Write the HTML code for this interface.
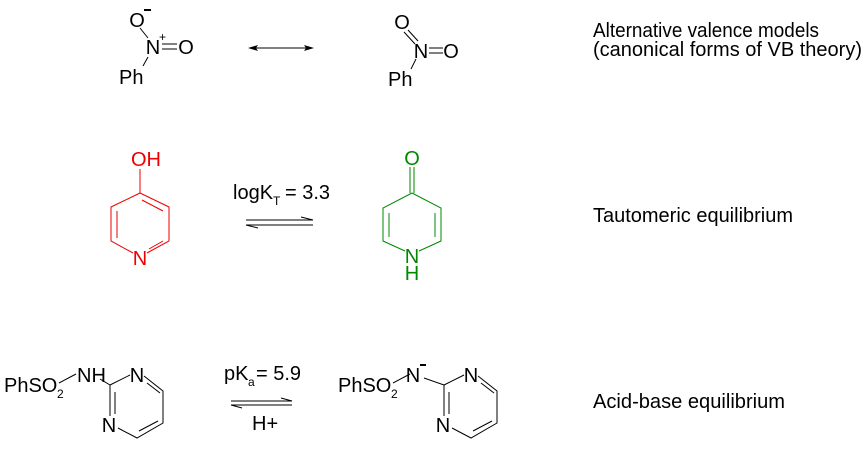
<!DOCTYPE html>
<html><head><meta charset="utf-8"><style>
html,body{margin:0;padding:0;background:#fff;width:864px;height:452px;overflow:hidden}
text{font-family:"Liberation Sans",Arial,sans-serif}
</style></head><body>
<svg width="864" height="452" viewBox="0 0 864 452" xmlns="http://www.w3.org/2000/svg">
<g fill="#000" font-size="20">
<text x="137" y="27" text-anchor="middle">O</text>
<text x="153" y="54" text-anchor="middle">N</text><text x="159" y="41" font-size="12">+</text>
<text x="186" y="54" text-anchor="middle">O</text>
<text x="119" y="84">Ph</text>
</g>
<g stroke="#000" stroke-width="1" fill="none">
<line x1="144" y1="10" x2="151" y2="10" stroke-width="2"/>
<line x1="140" y1="28" x2="148" y2="38"/>
<line x1="148" y1="57" x2="143" y2="66"/>
<line x1="162" y1="44" x2="177" y2="44"/>
<line x1="162" y1="49" x2="177" y2="49"/>
<line x1="404" y1="32" x2="415" y2="44"/>
<line x1="408" y1="30" x2="418" y2="41"/>
<line x1="416" y1="59" x2="411" y2="69"/>
<line x1="429" y1="48" x2="443" y2="48"/>
<line x1="429" y1="53" x2="443" y2="53"/>
<line x1="250" y1="48" x2="312" y2="48"/>
</g>
<polygon points="248,48 258,45 256,48 258,51" fill="#000"/>
<polygon points="314,48 304,45 306,48 304,51" fill="#000"/>
<g fill="#000" font-size="20">
<text x="402" y="29" text-anchor="middle">O</text>
<text x="421" y="58" text-anchor="middle">N</text>
<text x="451" y="58" text-anchor="middle">O</text>
<text x="388" y="86">Ph</text>
</g>
<g stroke="#e00" stroke-width="1" fill="none">
<line x1="140" y1="169" x2="140" y2="193"/>
<polyline points="140,193 111,207 111,241 133,253"/>
<polyline points="140,193 169,207 169,241 147,253"/>
<line x1="117" y1="211" x2="117" y2="238"/>
<line x1="142" y1="200" x2="163" y2="211"/>
<line x1="149" y1="249" x2="163" y2="241"/>
</g>
<g fill="#e00" font-size="20"><text x="131" y="166">OH</text><text x="140" y="265" text-anchor="middle">N</text></g>
<g stroke="#080" stroke-width="1" fill="none">
<line x1="410" y1="167" x2="410" y2="193"/>
<line x1="414" y1="167" x2="414" y2="193"/>
<polyline points="412,193 383,208 383,241 405,251"/>
<polyline points="412,193 441,208 441,241 419,251"/>
<line x1="389" y1="213" x2="389" y2="237"/>
<line x1="435" y1="213" x2="435" y2="237"/>
</g>
<g fill="#080" font-size="20"><text x="412" y="165" text-anchor="middle">O</text><text x="412" y="263" text-anchor="middle">N</text><text x="412" y="280" text-anchor="middle">H</text></g>
<g fill="#000"><text x="233" y="199" font-size="20">logK</text><text x="273" y="205" font-size="12">T</text><text x="285" y="199" font-size="20">= 3.3</text></g>
<g stroke="#000" stroke-width="1" fill="none">
<line x1="246" y1="220" x2="313" y2="220"/>
<line x1="246" y1="225" x2="313" y2="225"/>
<line x1="301" y1="217" x2="313" y2="220"/>
<line x1="246" y1="225" x2="258" y2="228"/>
</g>
<g fill="#000" font-size="20">
<text x="4" y="392">PhSO</text><text x="57" y="398" font-size="12">2</text>
<text x="77" y="382">NH</text>
<text x="137" y="382" text-anchor="middle">N</text>
<text x="109" y="432" text-anchor="middle">N</text>
</g>
<g stroke="#000" stroke-width="1" fill="none">
<line x1="59" y1="383" x2="76" y2="374"/>
<line x1="100" y1="379" x2="110" y2="385"/>
<polyline points="110,385 130,375"/>
<polyline points="144,376 163,391 163,423 137,438 118,428"/>
<line x1="110" y1="385" x2="110" y2="416"/>
<line x1="115" y1="392" x2="115" y2="414"/>
<line x1="147" y1="383" x2="160" y2="393"/>
<line x1="139" y1="431" x2="158" y2="421"/>
</g>
<g fill="#000"><text x="224" y="380" font-size="20">pK</text><text x="248" y="386" font-size="12">a</text><text x="256" y="380" font-size="20">= 5.9</text>
<text x="252" y="430" font-size="20">H+</text></g>
<g stroke="#000" stroke-width="1" fill="none">
<line x1="231" y1="401" x2="292" y2="401"/>
<line x1="231" y1="405" x2="292" y2="405"/>
<line x1="281" y1="398" x2="292" y2="401"/>
<line x1="231" y1="405" x2="242" y2="408"/>
</g>
<g fill="#000" font-size="20">
<text x="338" y="392">PhSO</text><text x="391" y="398" font-size="12">2</text>
<text x="413" y="382" text-anchor="middle">N</text>
<text x="471" y="382" text-anchor="middle">N</text>
<text x="443" y="432" text-anchor="middle">N</text>
</g>
<g stroke="#000" stroke-width="1" fill="none">
<line x1="420" y1="365" x2="426" y2="365" stroke-width="2"/>
<line x1="393" y1="383" x2="410" y2="374"/>
<line x1="424" y1="378" x2="444" y2="385"/>
<polyline points="444,385 464,375"/>
<polyline points="478,376 497,391 497,423 471,438 452,428"/>
<line x1="444" y1="385" x2="444" y2="416"/>
<line x1="449" y1="392" x2="449" y2="414"/>
<line x1="481" y1="383" x2="494" y2="393"/>
<line x1="473" y1="431" x2="492" y2="421"/>
</g>
<g fill="#000" font-size="20">
<text x="593" y="37" textLength="226" lengthAdjust="spacingAndGlyphs">Alternative valence models</text>
<text x="593" y="56" textLength="269" lengthAdjust="spacingAndGlyphs">(canonical forms of VB theory)</text>
<text x="593" y="222" textLength="200" lengthAdjust="spacingAndGlyphs">Tautomeric equilibrium</text>
<text x="593" y="408" textLength="192" lengthAdjust="spacingAndGlyphs">Acid-base equilibrium</text>
</g>
</svg>
</body></html>
